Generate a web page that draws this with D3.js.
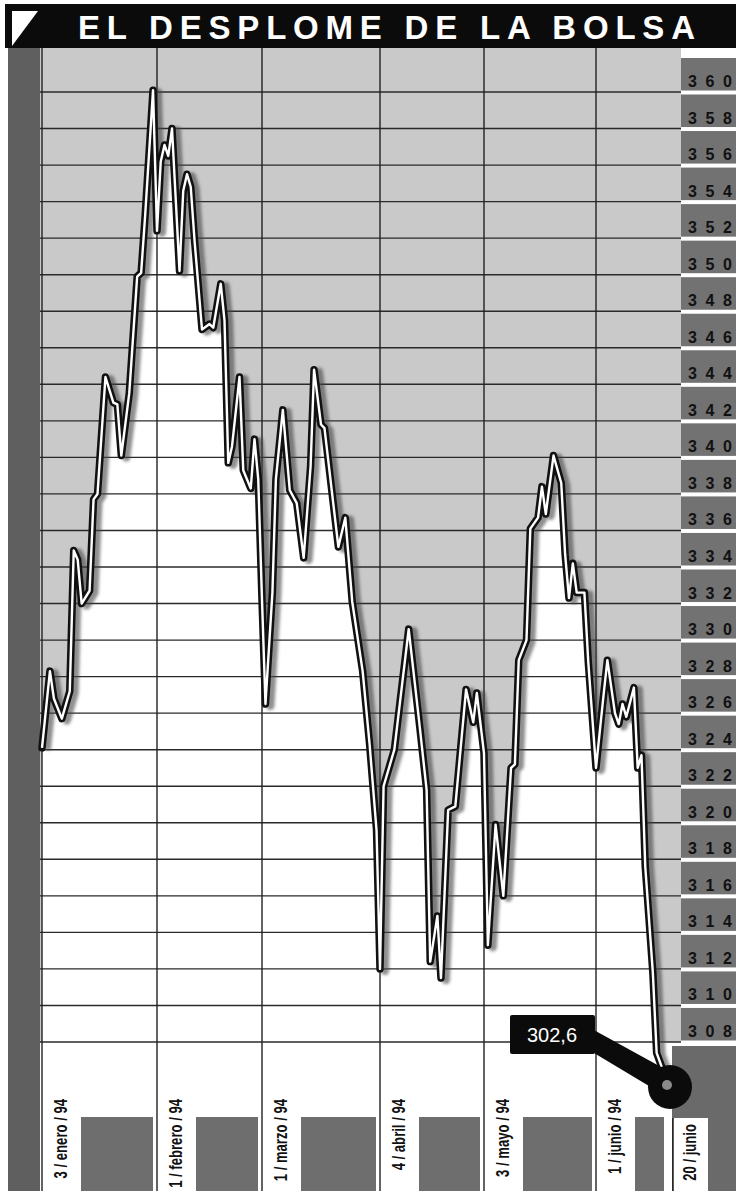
<!DOCTYPE html>
<html>
<head>
<meta charset="utf-8">
<script src="https://cdn.jsdelivr.net/npm/d3@7"></script>
<style>
  body { margin: 0; background: #fff; }
  svg { display: block; }
</style>
</head>
<body>
<svg id="chart" width="736" height="1191"></svg>
<script>
// data
const title = 'EL DESPLOME DE LA BOLSA'
const lastLabel = '302,6'

const dates = [
  '1994-01-03','1994-01-05','1994-01-06','1994-01-08','1994-01-10','1994-01-11','1994-01-12','1994-01-13',
  '1994-01-15','1994-01-16','1994-01-17','1994-01-19','1994-01-21','1994-01-22','1994-01-23','1994-01-25',
  '1994-01-27','1994-01-28','1994-01-29','1994-01-31','1994-02-01','1994-02-02','1994-02-03','1994-02-04',
  '1994-02-05','1994-02-07','1994-02-08','1994-02-09','1994-02-10','1994-02-11','1994-02-13','1994-02-15',
  '1994-02-16','1994-02-18','1994-02-19','1994-02-20','1994-02-21','1994-02-23','1994-02-24','1994-02-26',
  '1994-02-27','1994-02-28','1994-03-01','1994-03-02','1994-03-04','1994-03-05','1994-03-07','1994-03-09',
  '1994-03-11','1994-03-13','1994-03-15','1994-03-16','1994-03-18','1994-03-19','1994-03-23','1994-03-25',
  '1994-03-27','1994-03-30','1994-04-01','1994-04-03','1994-04-04','1994-04-05','1994-04-08','1994-04-12',
  '1994-04-15','1994-04-17','1994-04-18','1994-04-20','1994-04-21','1994-04-23','1994-04-25','1994-04-28',
  '1994-04-30','1994-05-01','1994-05-03','1994-05-04','1994-05-06','1994-05-08','1994-05-10','1994-05-11',
  '1994-05-12','1994-05-14','1994-05-15','1994-05-17','1994-05-18','1994-05-19','1994-05-21','1994-05-23',
  '1994-05-24','1994-05-25','1994-05-26','1994-05-27','1994-05-29','1994-05-30','1994-06-01','1994-06-03',
  '1994-06-04','1994-06-06','1994-06-07','1994-06-08','1994-06-09','1994-06-11','1994-06-12','1994-06-13',
  '1994-06-14','1994-06-16','1994-06-17','1994-06-20'
]

const values = [
  324.1, 328.3, 326.8, 325.7, 327.2, 334.9, 334.4, 332.0,
  332.7, 337.7, 338.0, 344.4, 343.0, 342.9, 340.1, 343.5,
  349.9, 350.1, 353.2, 360.1, 352.4, 356.2, 357.1, 356.5,
  358.0, 350.2, 354.6, 355.5, 354.8, 351.9, 347.0, 347.3,
  347.1, 349.5, 347.5, 339.7, 340.6, 344.4, 339.3, 338.3,
  341.0, 338.8, 332.2, 326.5, 332.6, 338.8, 342.6, 338.2,
  337.5, 334.5, 339.5, 344.8, 341.8, 341.6, 335.1, 336.7,
  332.1, 328.3, 324.3, 319.6, 312.0, 322.0, 324.0, 330.6,
  325.4, 321.8, 312.4, 314.9, 311.5, 320.7, 320.9, 327.3,
  325.5, 327.1, 323.8, 313.3, 319.9, 316.0, 323.0, 323.2,
  328.9, 330.0, 336.1, 336.7, 338.4, 336.9, 340.1, 338.6,
  334.7, 332.3, 334.2, 332.6, 332.6, 328.8, 323.0, 327.0,
  328.9, 326.0, 325.4, 326.5, 325.8, 327.4, 323.0, 323.7,
  317.6, 311.8, 307.4, 305.7
]

const yTicks = [360, 358, 356, 354, 352, 350, 348, 346, 344, 342, 340, 338, 336, 334,
  332, 330, 328, 326, 324, 322, 320, 318, 316, 314, 312, 310, 308]

const dateTicks = ['1994-01-03','1994-02-01','1994-03-01','1994-04-04','1994-05-03','1994-06-01','1994-06-20']
const dateLabels = ['3 / enero / 94','1 / febrero / 94','1 / marzo / 94','4 / abril / 94','3 / mayo / 94','1 / junio / 94','20 / junio']

const parse = d3.timeParse('%Y-%m-%d')
const data = dates.map((d, i) => ({date: parse(d), value: values[i]}))
const ticks = dateTicks.map(parse)

const svg = d3.select('#chart')
const W = 736, H = 1191
const plot = {left: 40, right: 681, top: 48, bottom: 1042}
const sans = "'Liberation Sans', Arial, sans-serif"

// scales (x is piecewise so the date lines fall where the paper put them)
const x = d3.scaleTime()
    .domain(ticks)
    .range([42, 157, 262, 380, 484, 596, 668])

const y = d3.scaleLinear()
    .domain([360, 308])
    .range([92, plot.bottom])

// blur for the line shadow, clip for the white area
const defs = svg.append('defs')
defs.append('filter').attr('id', 'blur')
    .append('feGaussianBlur').attr('stdDeviation', 1.8)
defs.append('clipPath').attr('id', 'plotclip')
    .append('rect')
    .attr('x', plot.left).attr('y', plot.top)
    .attr('width', plot.right - plot.left).attr('height', plot.bottom - plot.top)

// title bar
svg.append('rect')
    .attr('x', 5).attr('y', 4).attr('width', W - 5).attr('height', 44)
    .attr('fill', '#0b0b0b')
svg.append('path')
    .attr('d', 'M12,11 L38,11 L12,46 Z')
    .attr('fill', '#fff')
svg.append('text')
    .attr('x', 78).attr('y', 39)
    .attr('textLength', 617)
    .attr('lengthAdjust', 'spacing')
    .attr('font-family', sans)
    .attr('font-weight', 'bold')
    .attr('font-size', 33)
    .attr('fill', '#fff')
    .text(title)

// left dark strip
svg.append('rect')
    .attr('x', 8).attr('y', plot.top).attr('width', 32).attr('height', H - plot.top)
    .attr('fill', '#5f5f5f')

// grey plot background
svg.append('rect')
    .attr('x', plot.left).attr('y', plot.top)
    .attr('width', plot.right - plot.left).attr('height', plot.bottom - plot.top)
    .attr('fill', '#c9c9c9')

// white area under the line
const area = d3.area()
    .x(d => x(d.date))
    .y0(plot.bottom)
    .y1(d => y(d.value))

svg.append('path')
    .datum(data)
    .attr('clip-path', 'url(#plotclip)')
    .attr('d', area)
    .attr('fill', '#fff')

// horizontal grid
svg.append('g')
    .selectAll('line')
    .data(yTicks)
    .enter()
    .append('line')
    .attr('x1', plot.left).attr('x2', plot.right)
    .attr('y1', d => y(d)).attr('y2', d => y(d))
    .attr('stroke', '#2a2a2a')
    .attr('stroke-width', 1.4)

// right value column
const col = svg.append('g')
col.append('rect')
    .attr('x', plot.right).attr('y', plot.top).attr('width', W - plot.right).attr('height', plot.bottom - plot.top + 4)
    .attr('fill', '#fff')
col.selectAll('rect.box')
    .data(yTicks)
    .enter()
    .append('rect')
    .attr('class', 'box')
    .attr('x', plot.right)
    .attr('y', d => d === 360 ? 58 : y(d + 2) + 2.5)
    .attr('width', W - plot.right)
    .attr('height', d => y(d) - 1.5 - (d === 360 ? 58 : y(d + 2) + 2.5))
    .attr('fill', '#727272')
col.selectAll('text')
    .data(yTicks)
    .enter()
    .append('text')
    .attr('x', 688)
    .attr('y', d => y(d) - 5)
    .attr('textLength', 44)
    .attr('lengthAdjust', 'spacing')
    .attr('font-family', sans)
    .attr('font-weight', 'bold')
    .attr('font-size', 16)
    .attr('fill', '#111')
    .text(d => d)

// bottom strip: dark blocks between date labels
svg.append('g')
    .selectAll('rect')
    .data(ticks.slice(0, -1))
    .enter()
    .append('rect')
    .attr('x', d => x(d) + 39)
    .attr('y', 1117)
    .attr('width', (d, i) => x(ticks[i + 1]) - 4 - (x(d) + 39))
    .attr('height', H - 1117)
    .attr('fill', '#6e6e6e')

// dark corner under the value column
const lastTick = ticks[ticks.length - 1]
svg.append('rect')
    .attr('x', x(lastTick) + 4).attr('y', plot.bottom + 4)
    .attr('width', W - x(lastTick) - 4).attr('height', H - plot.bottom - 4)
    .attr('fill', '#6a6a6a')
svg.append('rect')
    .attr('x', x(lastTick) + 5).attr('y', 1118)
    .attr('width', 35).attr('height', H - 1118)
    .attr('fill', '#fff')
svg.append('line')
    .attr('x1', x(lastTick) + 5).attr('x2', x(lastTick) + 5)
    .attr('y1', 1118).attr('y2', H)
    .attr('stroke', '#111').attr('stroke-width', 1.4)

// vertical date lines
svg.append('g')
    .selectAll('line')
    .data(ticks.slice(0, -1))
    .enter()
    .append('line')
    .attr('x1', d => x(d)).attr('x2', d => x(d))
    .attr('y1', plot.top).attr('y2', H)
    .attr('stroke', '#222')
    .attr('stroke-width', 1.4)

// date labels, rotated and condensed
svg.append('g')
    .selectAll('text')
    .data(ticks)
    .enter()
    .append('text')
    .attr('transform', (d, i) => i === ticks.length - 1
        ? `translate(${x(d) + 21},1124) rotate(-90) scale(0.69,1)`
        : `translate(${x(d) + 18},1099) rotate(-90) scale(0.69,1)`)
    .attr('dy', '0.36em')
    .attr('text-anchor', 'end')
    .attr('font-family', sans)
    .attr('font-weight', 'bold')
    .attr('font-size', 19)
    .attr('fill', '#111')
    .text((d, i) => dateLabels[i])

// the index line: shadow, dark outline, white core
const line = d3.line()
    .x(d => x(d.date))
    .y(d => y(d.value))

svg.append('path')
    .datum(data)
    .attr('d', line)
    .attr('transform', 'translate(5,2)')
    .attr('fill', 'none')
    .attr('stroke', '#444')
    .attr('stroke-opacity', 0.6)
    .attr('stroke-width', 8)
    .attr('stroke-linejoin', 'round')
    .attr('filter', 'url(#blur)')

svg.append('path')
    .datum(data)
    .attr('d', line)
    .attr('fill', 'none')
    .attr('stroke', '#111')
    .attr('stroke-width', 7.5)
    .attr('stroke-linejoin', 'round')
    .attr('stroke-linecap', 'round')

svg.append('path')
    .datum(data)
    .attr('d', line)
    .attr('fill', 'none')
    .attr('stroke', '#fff')
    .attr('stroke-width', 2.4)
    .attr('stroke-linejoin', 'round')

// callout for the last value
const last = data[data.length - 1]
const cx = x(last.date) + 2, cy = y(last.value) + 3
svg.append('path')
    .attr('d', `M${cx - 78},${cy - 58} L${cx - 76},${cy - 34} L${cx - 6},${cy + 8} L${cx + 2},${cy - 14} Z`)
    .attr('fill', '#0b0b0b')
svg.append('rect')
    .attr('x', cx - 160).attr('y', cy - 72)
    .attr('width', 85).attr('height', 39)
    .attr('rx', 2)
    .attr('fill', '#0b0b0b')
svg.append('text')
    .attr('x', cx - 118).attr('y', cy - 45)
    .attr('text-anchor', 'middle')
    .attr('font-family', sans)
    .attr('font-size', 20)
    .attr('fill', '#fff')
    .text(lastLabel)
svg.append('circle')
    .attr('cx', cx).attr('cy', cy).attr('r', 22)
    .attr('fill', '#0b0b0b')
svg.append('circle')
    .attr('cx', cx - 3).attr('cy', cy - 2).attr('r', 5)
    .attr('fill', '#8a8a8a')
</script>
</body>
</html>
